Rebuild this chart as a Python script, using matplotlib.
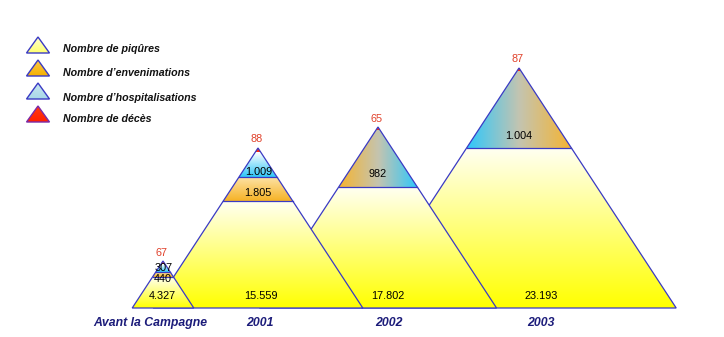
import numpy as np
import matplotlib
matplotlib.use("Agg")
import matplotlib.pyplot as plt
from matplotlib.patches import Polygon
from matplotlib.colors import LinearSegmentedColormap

plt.rcParams['font.family'] = ['Liberation Sans', 'DejaVu Sans']

# Data
periods = ["Avant la Campagne", "2001", "2002", "2003"]
piqures = [4327, 15559, 17802, 23193]
envenimations = [440, 1805, None, None]
hospitalisations = [307, 1009, None, None]
envenim_hospit = [None, None, 982, 1004]   # single mixed band on 2002/2003
deces = [67, 88, 65, 87]

legend_labels = ["Nombre de piqûres", "Nombre d\u2019envenimations",
                 "Nombre d\u2019hospitalisations", "Nombre de décès"]

# Layout (pixel space, y grows downward)
base_y = 308
slope = 0.655
apex_x = [163, 258, 378, 519]
apex_y = [261, 148, 127, 68]
yellow_top = [277, 201, 187, 148]
orange_top = [272, 177, None, None]
red_bottom = [264, 152, 130, 71]
bottom_label_x = [150, 260, 389, 541]
yellow_label_x = [162, 261, 388, 541]
mid_label_y = [279, 193, 174, 136]     # envenimations / mixed band label
hosp_label_y = [268, 172, None, None]

EDGE = '#3a3ac4'
YELLOW = ['#fffff2', '#ffff00']
ORANGE = ['#fde3a6', '#f6b225']
BLUE = ['#ffffff', '#2ec6f8']
MIX_OB = ['#f6b430', '#c4c4b0', '#2ec8fc']
MIX_BO = ['#2ec8fc', '#c4c4b0', '#f6b430']
RED = ['#ff2a10', '#ff2a10']


def fmt(v):
    return f"{v:,}".replace(",", ".")


def fill_gradient(ax, verts, colors, direction, z):
    poly = Polygon(verts, closed=True, facecolor='none', edgecolor='none', zorder=z)
    ax.add_patch(poly)
    xs = [p[0] for p in verts]
    ys = [p[1] for p in verts]
    cmap = LinearSegmentedColormap.from_list('g', colors)
    if direction == 'v':
        grad = np.linspace(0, 1, 256).reshape(-1, 1)
    else:
        grad = np.linspace(0, 1, 256).reshape(1, -1)
    im = ax.imshow(grad, cmap=cmap, extent=(min(xs), max(xs), max(ys), min(ys)),
                   aspect='auto', zorder=z, interpolation='bilinear')
    im.set_clip_path(poly)


def band(cx, ya, y1, y2):
    w1 = slope * (y1 - ya)
    w2 = slope * (y2 - ya)
    return [(cx - w1, y1), (cx + w1, y1), (cx + w2, y2), (cx - w2, y2)]


fig = plt.figure(figsize=(7.24, 3.37), dpi=100)
ax = fig.add_axes([0, 0, 1, 1])

for i in range(len(periods)):
    cx, ya = apex_x[i], apex_y[i]
    z = 10 - 2 * i
    fill_gradient(ax, band(cx, ya, yellow_top[i], base_y), YELLOW, 'v', z)
    if orange_top[i] is not None:
        fill_gradient(ax, band(cx, ya, orange_top[i], yellow_top[i]), ORANGE, 'v', z)
        fill_gradient(ax, band(cx, ya, red_bottom[i], orange_top[i]), BLUE, 'v', z)
        cuts = [orange_top[i], yellow_top[i]]
    else:
        mix = MIX_OB if i == 2 else MIX_BO
        fill_gradient(ax, band(cx, ya, red_bottom[i], yellow_top[i]), mix, 'h', z)
        cuts = [yellow_top[i]]
    fill_gradient(ax, band(cx, ya, ya + 0.01, red_bottom[i]), RED, 'v', z)

    w = slope * (base_y - ya)
    tri = Polygon([(cx, ya), (cx + w, base_y), (cx - w, base_y)], closed=True,
                  facecolor='none', edgecolor=EDGE, lw=0.9, zorder=z + 1)
    ax.add_patch(tri)
    for yc in cuts:
        wc = slope * (yc - ya)
        ax.plot([cx - wc, cx + wc], [yc, yc], color=EDGE, lw=0.9, zorder=z + 1)

    # value labels
    ax.text(cx - 1, ya - 8.5, str(deces[i]), color='#e0402a', fontsize=7.8,
            ha='center', va='center', zorder=20)
    ax.text(yellow_label_x[i], base_y - 12, fmt(piqures[i]), fontsize=7.8,
            ha='center', va='center', zorder=20)
    if orange_top[i] is not None:
        ax.text(cx, mid_label_y[i], fmt(envenimations[i]),
                fontsize=7.8, ha='center', va='center', zorder=20)
        ax.text(cx + 1, hosp_label_y[i], fmt(hospitalisations[i]),
                fontsize=7.8, ha='center', va='center', zorder=21)
    else:
        ax.text(cx, mid_label_y[i], fmt(envenim_hospit[i]), fontsize=7.8,
                ha='center', va='center', zorder=20)

    ax.text(bottom_label_x[i], 323, periods[i], color='#1c1c7a', fontsize=8.8,
            fontweight='bold', fontstyle='italic', ha='center', va='center')

# legend
legend_fills = [['#ffffd0', '#ffff70'], ['#fbc84a', '#f5b000'],
                ['#c8e6f0', '#a8d8e8'], ['#ff3a10', '#ff2000']]
legend_y = [37, 60, 83, 106]
legend_text_y = [49, 73, 98, 119]
for j, lab in enumerate(legend_labels):
    t = legend_y[j]
    verts = [(38, t), (49.5, t + 16), (26.5, t + 16)]
    fill_gradient(ax, verts, legend_fills[j], 'v', 5)
    edge = '#7a2aa8' if j == 3 else EDGE
    ax.add_patch(Polygon(verts, closed=True, facecolor='none', edgecolor=edge,
                         lw=1.0, zorder=6))
    ax.text(63, legend_text_y[j], lab, fontsize=7.7, fontweight='bold',
            fontstyle='italic', color='#111111', ha='left', va='center')

ax.set_xlim(0, 724)
ax.set_ylim(337, 0)
ax.axis('off')
fig.savefig("out.png", dpi=100, facecolor='white')
